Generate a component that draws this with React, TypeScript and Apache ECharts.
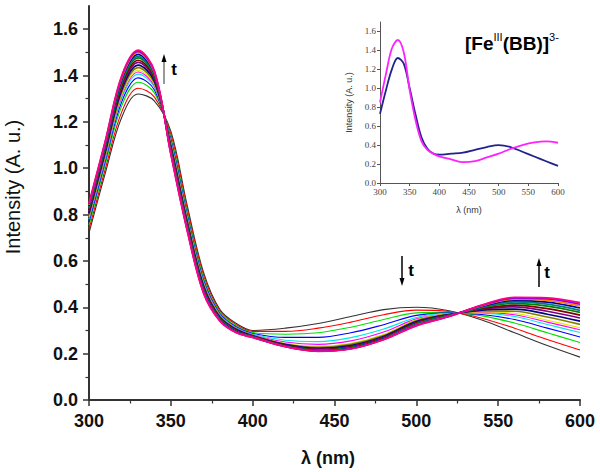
import React, { useEffect, useRef } from "react";
import * as echarts from "echarts";

// wavelengths (nm) shared by all spectra
const wavelengths = [300, 310, 320, 330, 340, 350, 360, 370, 380, 390, 400, 420, 440, 460, 480, 500, 520, 540, 560, 580, 600];

// main panel: time-resolved spectra, first (t0) to last
const spec00 = [0.72, 0.98, 1.22, 1.32, 1.29, 1.16, 0.84, 0.55, 0.39, 0.33, 0.30, 0.31, 0.33, 0.36, 0.39, 0.40, 0.385, 0.345, 0.29, 0.235, 0.185];
const spec01 = [0.737, 0.998, 1.243, 1.345, 1.307, 1.147, 0.826, 0.538, 0.384, 0.325, 0.296, 0.296, 0.31, 0.336, 0.368, 0.388, 0.382, 0.353, 0.31, 0.261, 0.216];
const spec02 = [0.755, 1.018, 1.269, 1.371, 1.325, 1.133, 0.81, 0.526, 0.377, 0.319, 0.291, 0.284, 0.29, 0.314, 0.347, 0.376, 0.378, 0.363, 0.332, 0.29, 0.248];
const spec03 = [0.768, 1.032, 1.287, 1.39, 1.338, 1.123, 0.799, 0.517, 0.372, 0.315, 0.287, 0.27, 0.27, 0.29, 0.325, 0.365, 0.376, 0.369, 0.347, 0.31, 0.272];
const spec04 = [0.779, 1.043, 1.301, 1.406, 1.349, 1.115, 0.79, 0.51, 0.368, 0.312, 0.284, 0.258, 0.252, 0.269, 0.306, 0.356, 0.374, 0.374, 0.36, 0.326, 0.291];
const spec05 = [0.785, 1.05, 1.31, 1.415, 1.355, 1.11, 0.785, 0.505, 0.365, 0.31, 0.281, 0.25, 0.24, 0.255, 0.293, 0.35, 0.373, 0.378, 0.368, 0.336, 0.303];
const spec06 = [0.79, 1.056, 1.317, 1.423, 1.36, 1.106, 0.781, 0.501, 0.363, 0.308, 0.28, 0.244, 0.232, 0.245, 0.283, 0.346, 0.372, 0.38, 0.374, 0.344, 0.312];
const spec07 = [0.798, 1.064, 1.328, 1.434, 1.368, 1.1, 0.774, 0.496, 0.36, 0.306, 0.278, 0.241, 0.227, 0.24, 0.278, 0.342, 0.37, 0.384, 0.383, 0.358, 0.326];
const spec08 = [0.806, 1.072, 1.339, 1.445, 1.376, 1.094, 0.767, 0.491, 0.357, 0.304, 0.277, 0.239, 0.223, 0.235, 0.274, 0.338, 0.369, 0.388, 0.392, 0.37, 0.34];
const spec09 = [0.814, 1.081, 1.35, 1.457, 1.384, 1.088, 0.761, 0.485, 0.354, 0.301, 0.275, 0.236, 0.22, 0.231, 0.27, 0.334, 0.367, 0.392, 0.402, 0.383, 0.354];
const spec10 = [0.82, 1.088, 1.359, 1.466, 1.39, 1.083, 0.755, 0.481, 0.352, 0.299, 0.274, 0.235, 0.217, 0.228, 0.268, 0.332, 0.366, 0.395, 0.409, 0.394, 0.366];
const spec11 = [0.827, 1.095, 1.368, 1.476, 1.397, 1.078, 0.75, 0.476, 0.349, 0.297, 0.273, 0.233, 0.215, 0.226, 0.265, 0.329, 0.365, 0.398, 0.417, 0.405, 0.378];
const spec12 = [0.832, 1.1, 1.375, 1.483, 1.402, 1.074, 0.745, 0.473, 0.347, 0.296, 0.273, 0.232, 0.214, 0.224, 0.264, 0.327, 0.364, 0.401, 0.423, 0.414, 0.387];
const spec13 = [0.837, 1.106, 1.382, 1.491, 1.407, 1.07, 0.741, 0.469, 0.345, 0.294, 0.272, 0.232, 0.212, 0.223, 0.263, 0.325, 0.363, 0.404, 0.43, 0.422, 0.397];
const spec14 = [0.842, 1.112, 1.389, 1.499, 1.412, 1.066, 0.737, 0.465, 0.343, 0.292, 0.271, 0.231, 0.211, 0.221, 0.261, 0.323, 0.362, 0.406, 0.435, 0.43, 0.406];
const spec15 = [0.846, 1.116, 1.395, 1.504, 1.416, 1.063, 0.733, 0.463, 0.342, 0.291, 0.27, 0.23, 0.211, 0.221, 0.261, 0.322, 0.361, 0.408, 0.439, 0.436, 0.413];
const spec16 = [0.85, 1.12, 1.4, 1.51, 1.42, 1.06, 0.73, 0.46, 0.34, 0.29, 0.27, 0.23, 0.21, 0.22, 0.26, 0.32, 0.36, 0.41, 0.443, 0.441, 0.42];

const mainSpectra = [spec00, spec01, spec02, spec03, spec04, spec05, spec06, spec07, spec08, spec09, spec10, spec11, spec12, spec13, spec14, spec15, spec16];
const spectrumColors = ["#333333", "#ff0000", "#00e000", "#0000ff", "#00e8e8", "#ff00ff", "#e6e600", "#808000", "#000080", "#800080", "#800000", "#008000", "#008080", "#0000a0", "#ff8000", "#8000ff", "#ff0080"];

// inset: initial vs final spectrum
const insetInitial = [0.73, 0.98, 1.2, 1.32, 1.26, 1.0, 0.72, 0.48, 0.36, 0.31, 0.3, 0.31, 0.32, 0.35, 0.38, 0.4, 0.38, 0.33, 0.28, 0.23, 0.18];
const insetFinal = [0.85, 1.15, 1.42, 1.51, 1.38, 0.98, 0.66, 0.44, 0.35, 0.31, 0.28, 0.25, 0.22, 0.23, 0.27, 0.31, 0.36, 0.4, 0.428, 0.44, 0.425];

const yTickValues = [0, 0.2, 0.4, 0.6, 0.8, 1.0, 1.2, 1.4, 1.6];

const SANS = "Liberation Sans";
const SERIF = "Liberation Serif";

function arrow(x: number, yTail: number, yHead: number, stroke: string) {
  const dir = yHead < yTail ? 1 : -1;
  return [
    { type: "line", shape: { x1: x, y1: yTail, x2: x, y2: yHead + dir * 5 }, style: { stroke, lineWidth: 1.5 } },
    {
      type: "polygon",
      shape: { points: [[x - 2.5, yHead + dir * 8], [x + 2.5, yHead + dir * 8], [x, yHead]] },
      style: { fill: "#000" },
    },
  ];
}

function tLabel(x: number, y: number) {
  return {
    type: "text",
    x,
    y,
    style: { text: "t", font: `bold 17px ${SANS}`, fill: "#000", textAlign: "center", textVerticalAlign: "middle" },
  };
}

export default function App() {
  const ref = useRef<HTMLDivElement>(null);
  useEffect(() => {
    const chart = echarts.init(ref.current!, null, { renderer: "svg" });
    const mainSeries = mainSpectra.map((vals, i) => ({
      type: "line",
      xAxisIndex: 0,
      yAxisIndex: 0,
      data: wavelengths.map((w, j) => [w, vals[j]]),
      showSymbol: false,
      smooth: 0.35,
      lineStyle: { width: i < 7 ? 1.1 : 1.7, color: spectrumColors[i] },
      itemStyle: { color: spectrumColors[i] },
      silent: true,
    }));
    const insetSeries = [
      { vals: insetInitial, color: "#22228c" },
      { vals: insetFinal, color: "#ff22ff" },
    ].map((s) => ({
      type: "line",
      xAxisIndex: 1,
      yAxisIndex: 1,
      data: wavelengths.map((w, j) => [w, s.vals[j]]),
      showSymbol: false,
      smooth: 0.35,
      lineStyle: { width: 1.8, color: s.color },
      silent: true,
    }));

    const option: any = {
      animation: false,
      textStyle: { fontFamily: SANS },
      grid: [
        { left: 89, right: 20, top: 6, bottom: 72 },
        { left: 380, right: 42, top: 22, bottom: 289 },
      ],
      xAxis: [
        {
          gridIndex: 0,
          type: "value",
          min: 300,
          max: 600,
          interval: 50,
          axisLine: { show: true, onZero: false, lineStyle: { color: "#333", width: 2 } },
          axisTick: { show: true, length: 6, lineStyle: { color: "#333", width: 1.5 } },
          minorTick: { show: true, splitNumber: 2, length: 3.5, lineStyle: { color: "#333", width: 1.2 } },
          axisLabel: { fontSize: 18, fontWeight: "bold", color: "#111", margin: 12, fontFamily: SANS },
          splitLine: { show: false },
        },
        {
          gridIndex: 1,
          type: "value",
          min: 300,
          max: 600,
          interval: 50,
          axisLine: { show: true, onZero: false, lineStyle: { color: "#555", width: 1 } },
          axisTick: { show: true, length: 3, lineStyle: { color: "#555" } },
          axisLabel: { fontSize: 9, color: "#444", margin: 4, fontFamily: SERIF },
          splitLine: { show: false },
          name: "λ (nm)",
          nameLocation: "middle",
          nameGap: 22,
          nameTextStyle: { fontSize: 9, color: "#333", fontFamily: SANS },
        },
      ],
      yAxis: [
        {
          gridIndex: 0,
          type: "value",
          min: 0,
          max: 1.7,
          interval: 0.2,
          axisLine: { show: true, onZero: false, lineStyle: { color: "#333", width: 2 } },
          axisTick: { show: true, length: 6, customValues: yTickValues, lineStyle: { color: "#333", width: 1.5 } },
          minorTick: { show: true, splitNumber: 2, length: 3.5, lineStyle: { color: "#333", width: 1.2 } },
          axisLabel: {
            fontSize: 18,
            fontWeight: "bold",
            color: "#111",
            margin: 11,
            fontFamily: SANS,
            customValues: yTickValues,
            formatter: (v: number) => v.toFixed(1),
          },
          splitLine: { show: false },
        },
        {
          gridIndex: 1,
          type: "value",
          min: 0,
          max: 1.7,
          interval: 0.2,
          axisLine: { show: true, onZero: false, lineStyle: { color: "#555", width: 1 } },
          axisTick: { show: true, length: 3, customValues: yTickValues, lineStyle: { color: "#555" } },
          axisLabel: {
            fontSize: 9,
            color: "#444",
            margin: 4,
            fontFamily: SERIF,
            customValues: yTickValues,
            formatter: (v: number) => v.toFixed(1),
          },
          splitLine: { show: false },
          name: "Intensity (A. u.)",
          nameLocation: "middle",
          nameGap: 27,
          nameTextStyle: { fontSize: 9, color: "#333", fontFamily: SANS },
        },
      ],
      series: [...mainSeries, ...insetSeries],
      graphic: [
        {
          type: "text",
          x: 13,
          y: 187,
          rotation: Math.PI / 2,
          style: {
            text: "Intensity (A. u.)",
            font: `20px ${SANS}`,
            fill: "#111",
            textAlign: "center",
            textVerticalAlign: "middle",
          },
        },
        {
          type: "text",
          x: 328,
          y: 458,
          style: {
            text: "λ (nm)",
            font: `bold 18px ${SANS}`,
            fill: "#111",
            textAlign: "center",
            textVerticalAlign: "middle",
          },
        },
        {
          type: "text",
          x: 465,
          y: 31,
          style: {
            text: "{a|[Fe}{s|III}{a|(BB)]}{s|3-}",
            textAlign: "left",
            textVerticalAlign: "top",
            rich: {
              a: { fontSize: 19, fontWeight: "bold", fontFamily: SANS, fill: "#000", lineHeight: 24 },
              s: { fontSize: 11, fontFamily: SANS, fill: "#000", lineHeight: 12, verticalAlign: "top" },
            },
          },
        },
        ...arrow(164, 84, 54, "#777"),
        tLabel(174, 69),
        ...arrow(402, 256, 286, "#000"),
        tLabel(411, 270),
        ...arrow(539, 287, 258, "#000"),
        tLabel(547, 272),
      ],
    };
    chart.setOption(option);
    return () => chart.dispose();
  }, []);
  return <div ref={ref} style={{ position: "absolute", left: 0, top: 0, width: 600, height: 472 }} />;
}
